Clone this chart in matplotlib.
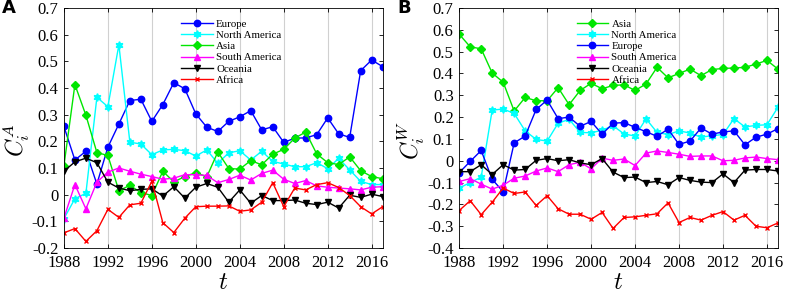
import numpy as np
import matplotlib
matplotlib.use("Agg")
import matplotlib.pyplot as plt
from matplotlib.ticker import FuncFormatter

# ─── Data ─────────────────────────────────────────────────────────────────────
years = list(range(1988, 2018))

# Panel A: C_i^A
europe_a = [0.256, 0.130, 0.163, 0.040, 0.178, 0.265, 0.353, 0.358, 0.275, 0.338,
            0.420, 0.397, 0.303, 0.253, 0.237, 0.275, 0.292, 0.315, 0.243, 0.255,
            0.196, 0.212, 0.213, 0.225, 0.288, 0.228, 0.215, 0.465, 0.505, 0.480]
namerica_a = [-0.090, -0.015, 0.005, 0.365, 0.330, 0.562, 0.197, 0.190, 0.150, 0.168,
              0.170, 0.165, 0.145, 0.168, 0.118, 0.157, 0.165, 0.130, 0.163, 0.125,
              0.115, 0.105, 0.105, 0.120, 0.098, 0.136, 0.093, 0.050, 0.038, 0.038]
asia_a = [0.108, 0.413, 0.298, 0.158, 0.147, 0.015, 0.035, 0.008, -0.003, 0.088,
          0.048, 0.068, 0.083, 0.067, 0.160, 0.098, 0.096, 0.128, 0.112, 0.152,
          0.170, 0.212, 0.235, 0.153, 0.120, 0.113, 0.142, 0.090, 0.068, 0.060]
samerica_a = [-0.088, 0.038, -0.053, 0.047, 0.085, 0.100, 0.088, 0.077, 0.068, 0.058,
              0.062, 0.075, 0.075, 0.072, 0.045, 0.057, 0.073, 0.055, 0.080, 0.092,
              0.058, 0.042, 0.053, 0.033, 0.028, 0.025, 0.022, 0.018, 0.028, 0.030]
oceania_a = [0.088, 0.123, 0.137, 0.120, 0.047, 0.025, 0.015, 0.020, 0.022, -0.005,
             0.030, -0.013, 0.028, 0.042, 0.028, -0.028, 0.018, -0.032, -0.003, -0.022,
             -0.022, -0.020, -0.032, -0.037, -0.028, -0.050, -0.002, -0.010, 0.002, -0.007]
africa_a = [-0.143, -0.127, -0.175, -0.135, -0.055, -0.085, -0.038, -0.032, 0.050, -0.105,
            -0.142, -0.088, -0.045, -0.043, -0.043, -0.042, -0.062, -0.057, -0.028, 0.045,
            -0.045, 0.025, 0.018, 0.038, 0.045, 0.027, -0.003, -0.045, -0.072, -0.045]

# Panel B: C_i^W
asia_b = [0.580, 0.522, 0.513, 0.402, 0.360, 0.228, 0.290, 0.275, 0.275, 0.335,
          0.257, 0.322, 0.355, 0.330, 0.345, 0.348, 0.322, 0.352, 0.428, 0.380,
          0.400, 0.420, 0.390, 0.418, 0.423, 0.425, 0.428, 0.443, 0.460, 0.420]
namerica_b = [-0.125, -0.100, -0.075, 0.232, 0.237, 0.217, 0.137, 0.098, 0.090, 0.172,
              0.190, 0.130, 0.128, 0.140, 0.160, 0.123, 0.113, 0.192, 0.130, 0.120,
              0.137, 0.127, 0.108, 0.115, 0.120, 0.193, 0.155, 0.162, 0.165, 0.245]
europe_b = [-0.055, -0.003, 0.047, -0.085, -0.142, 0.082, 0.113, 0.235, 0.278, 0.193,
            0.200, 0.158, 0.180, 0.122, 0.172, 0.175, 0.153, 0.133, 0.112, 0.145,
            0.075, 0.090, 0.150, 0.122, 0.132, 0.137, 0.073, 0.108, 0.122, 0.147]
samerica_b = [-0.095, -0.082, -0.107, -0.130, -0.112, -0.080, -0.070, -0.047, -0.033, -0.050,
              -0.018, -0.007, -0.037, 0.012, 0.002, 0.008, -0.022, 0.035, 0.045, 0.038,
              0.030, 0.020, 0.022, 0.022, 0.000, 0.002, 0.013, 0.017, 0.010, 0.005]
oceania_b = [-0.050, -0.050, -0.018, -0.063, -0.018, -0.043, -0.040, 0.002, 0.010, 0.000,
             0.005, -0.010, -0.018, 0.010, -0.052, -0.077, -0.075, -0.100, -0.095, -0.110,
             -0.077, -0.090, -0.098, -0.100, -0.060, -0.100, -0.043, -0.040, -0.040, -0.047]
africa_b = [-0.228, -0.183, -0.247, -0.190, -0.125, -0.150, -0.143, -0.205, -0.160, -0.220,
            -0.245, -0.245, -0.268, -0.237, -0.310, -0.260, -0.257, -0.250, -0.243, -0.193,
            -0.283, -0.260, -0.272, -0.250, -0.233, -0.272, -0.250, -0.300, -0.307, -0.285]

# ─── Styles ───────────────────────────────────────────────────────────────────
STYLE = {
    "Europe": dict(color="#0000ff", marker="o", ms=4.6),
    "North America": dict(color="#00ffff", marker=(6, 1, 0), ms=5.5),
    "Asia": dict(color="#00e600", marker="D", ms=3.8),
    "South America": dict(color="#ff00ff", marker="^", ms=5.0),
    "Oceania": dict(color="#000000", marker="v", ms=5.0),
    "Africa": dict(color="#ff0000", marker="x", ms=3.0),
}

plt.rcParams["font.family"] = ["Liberation Serif", "DejaVu Serif"]
plt.rcParams["mathtext.fontset"] = "cm"


def fmt(v, _):
    if abs(v) < 1e-9:
        return "0"
    return f"{v:.1f}"


def draw_panel(ax, series, ylim, ylabel, letter):
    for name, vals in series:
        st = STYLE[name]
        ax.plot(years, vals, color=st["color"], marker=st["marker"], ms=st["ms"],
                mfc=st["color"], mec=st["color"], lw=1.0, mew=1.0, label=name)
    ax.set_xlim(1988, 2017)
    ax.set_ylim(*ylim)
    ax.set_xticks(range(1988, 2018, 4))
    ax.set_yticks(np.round(np.arange(ylim[0], ylim[1] + 0.001, 0.1), 1))
    ax.yaxis.set_major_formatter(FuncFormatter(fmt))
    ax.tick_params(direction="in", top=True, right=True, labelsize=12, length=3, width=0.6)
    ax.tick_params(axis="x", pad=5)
    ax.tick_params(axis="y", pad=4)
    ax.grid(True, axis="x", color="#d0d0d0", lw=0.8)
    for sp in ax.spines.values():
        sp.set_linewidth(0.6)
    ax.set_xlabel("$t$", fontsize=18)
    ax.xaxis.set_label_coords(0.5, -0.1, transform=ax.transAxes)
    ax.xaxis.label.set_va("top")
    ax.set_ylabel(ylabel, fontsize=17)
    ax.yaxis.set_label_coords(-0.1, 0.45, transform=ax.transAxes)
    ax.legend(loc="upper left", bbox_to_anchor=(0.345, 0.985), frameon=False,
              fontsize=7.8, handlelength=2.9, handletextpad=0.3, labelspacing=0.15,
              borderaxespad=0.3)
    ax.text(-0.195, 1.0, letter, transform=ax.transAxes, fontsize=13, fontweight="bold",
            family="DejaVu Sans", va="center", ha="left")


fig = plt.figure(figsize=(7.89, 2.96), dpi=100)
ax_a = fig.add_axes([0.081, 0.162, 0.404, 0.811])
ax_b = fig.add_axes([0.582, 0.162, 0.404, 0.811])

draw_panel(ax_a, [("Europe", europe_a), ("North America", namerica_a), ("Asia", asia_a),
                  ("South America", samerica_a), ("Oceania", oceania_a), ("Africa", africa_a)],
           (-0.2, 0.7), "$C_i^A$", "A")
draw_panel(ax_b, [("Asia", asia_b), ("North America", namerica_b), ("Europe", europe_b),
                  ("South America", samerica_b), ("Oceania", oceania_b), ("Africa", africa_b)],
           (-0.4, 0.7), "$C_i^W$", "B")

fig.savefig("out.png", dpi=100)
